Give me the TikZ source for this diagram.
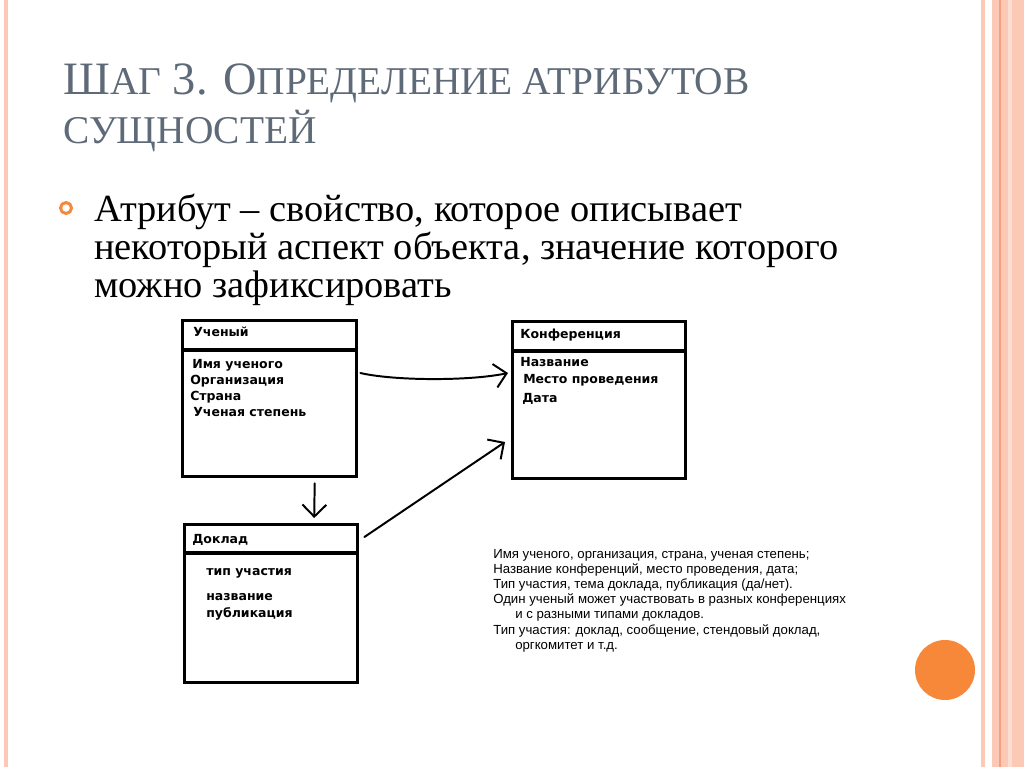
\documentclass[tikz,border=0pt]{standalone}
\usepackage{fontspec}
\setmainfont{Liberation Serif}
\newfontfamily\titlefont{Liberation Serif}
\newfontfamily\boxfont{DejaVu Sans}
\newfontfamily\notefont{Liberation Sans}
\usetikzlibrary{arrows.meta,calc}
\definecolor{titlegray}{HTML}{5E6A78}
\definecolor{salmon}{HTML}{FCC9B6}
\definecolor{salmondark}{HTML}{F2A27F}
\definecolor{bulletorange}{HTML}{F7883A}
\newcommand{\smc}{\fontsize{28}{30}\selectfont}

\begin{document}
\begin{tikzpicture}[x=0.25mm,y=-0.25mm,
    entity/.style={draw, line width=2.4pt, anchor=north west, inner sep=0pt},
    field/.style={anchor=base west, inner sep=0pt, font=\boxfont\bfseries\fontsize{8.9}{11}\selectfont},
    note/.style={anchor=base west, inner sep=0pt, font=\notefont\fontsize{9.4}{10}\selectfont},
    body/.style={anchor=base west, inner sep=0pt, font=\fontsize{27.3}{29}\selectfont},
    arr/.style={line width=1.4pt, line cap=round, -{Straight Barb[length=8.5pt,width=17pt]}}]
      % \draw[help lines, gray!50, very thin] (0,0) grid[step=50] (1024,767);
      \useasboundingbox (0,0) rectangle (1024,767);
      \fill[white] (0,0) rectangle (1024,767);

      % frame of the slide
      \fill[salmon] (4,0) rectangle (8,767);
      \fill[salmon] (981,0) rectangle (985,767);
      \fill[salmon] (992,0) rectangle (1024,767);
      \fill[salmondark!35] (1008,0) rectangle (1012,767);
      \draw[salmondark, line width=0.8pt] (1000,0) -- (1000,767);
      \fill[bulletorange] (945,670) circle (30);

      % title
      \node[anchor=base west, inner sep=0pt, text=titlegray, font=\titlefont\fontsize{33}{36}\selectfont] (title1) at (63,95)
        {Ш{\smc АГ} 3. О{\smc ПРЕДЕЛЕНИЕ АТРИБУТОВ}};
      \node[anchor=base west, inner sep=0pt, text=titlegray, font=\titlefont\smc] (title2) at (63,143) {СУЩНОСТЕЙ};

      % definition
      \draw[bulletorange, line width=2.1pt] (66,208) circle (5.5);
      \node[body] (def1) at (94,221) {Атрибут – свойство, которое описывает};
      \node[body] (def2) at (94,259) {некоторый аспект объекта, значение которого};
      \node[body] (def3) at (94,297) {можно зафиксировать};

      % entities
      \node[entity, minimum width=43.5mm, minimum height=39mm] (uch) at (181,319) {};
      \draw[line width=2.4pt] ($(uch.north west)+(0,31)$) -- ($(uch.north east)+(0,31)$);
      \node[field] (uchname) at (193,336) {Ученый};
      \node[field] (uch1) at (192,368) {Имя ученого};
      \node[field] (uch2) at (190,384) {Организация};
      \node[field] (uch3) at (190,400) {Страна};
      \node[field] (uch4) at (193,416) {Ученая степень};

      \node[entity, minimum width=43.25mm, minimum height=39.25mm] (konf) at (511,320) {};
      \draw[line width=2.4pt] ($(konf.north west)+(0,31)$) -- ($(konf.north east)+(0,31)$);
      \node[field] (konfname) at (520,338) {Конференция};
      \node[field] (konf1) at (520,366) {Название};
      \node[field] (konf2) at (523,383) {Место проведения};
      \node[field] (konf3) at (522,402) {Дата};

      \node[entity, minimum width=43.25mm, minimum height=39.5mm] (dokl) at (183,523) {};
      \draw[line width=2.4pt] ($(dokl.north west)+(0,30)$) -- ($(dokl.north east)+(0,30)$);
      \node[field] (doklname) at (192,543) {Доклад};
      \node[field] (dokl1) at (206,575) {тип участия};
      \node[field] (dokl2) at (206,600) {название};
      \node[field] (dokl3) at (206,617) {публикация};

      % links
      \draw[arr] ($(uch.north east)+(2,54)$) .. controls (395,381) and (470,381) .. ($(konf.north west)+(-3,53)$);
      \draw[arr] ($(uch.south)+(45,5)$) -- ($(dokl.north)+(43,-5)$);
      \draw[arr] ($(dokl.north east)+(5,14)$) -- ($(konf.north west)+(-6,122)$);

      % comments
      \node[note] (n1) at (493,558) {Имя ученого, организация, страна, ученая степень;};
      \node[note] (n2) at (493,573) {Название конференций, место проведения, дата;};
      \node[note] (n3) at (493,588) {Тип участия, тема доклада, публикация (да/нет).};
      \node[note] (n4) at (493,603) {Один ученый может участвовать в разных конференциях};
      \node[note] (n5) at (515,618) {и с разными типами докладов.};
      \node[note] (n6) at (493,634) {Тип участия: доклад, сообщение, стендовый доклад,};
      \node[note] (n7) at (515,649) {оргкомитет и т.д.};
    \end{tikzpicture}
\end{document}
